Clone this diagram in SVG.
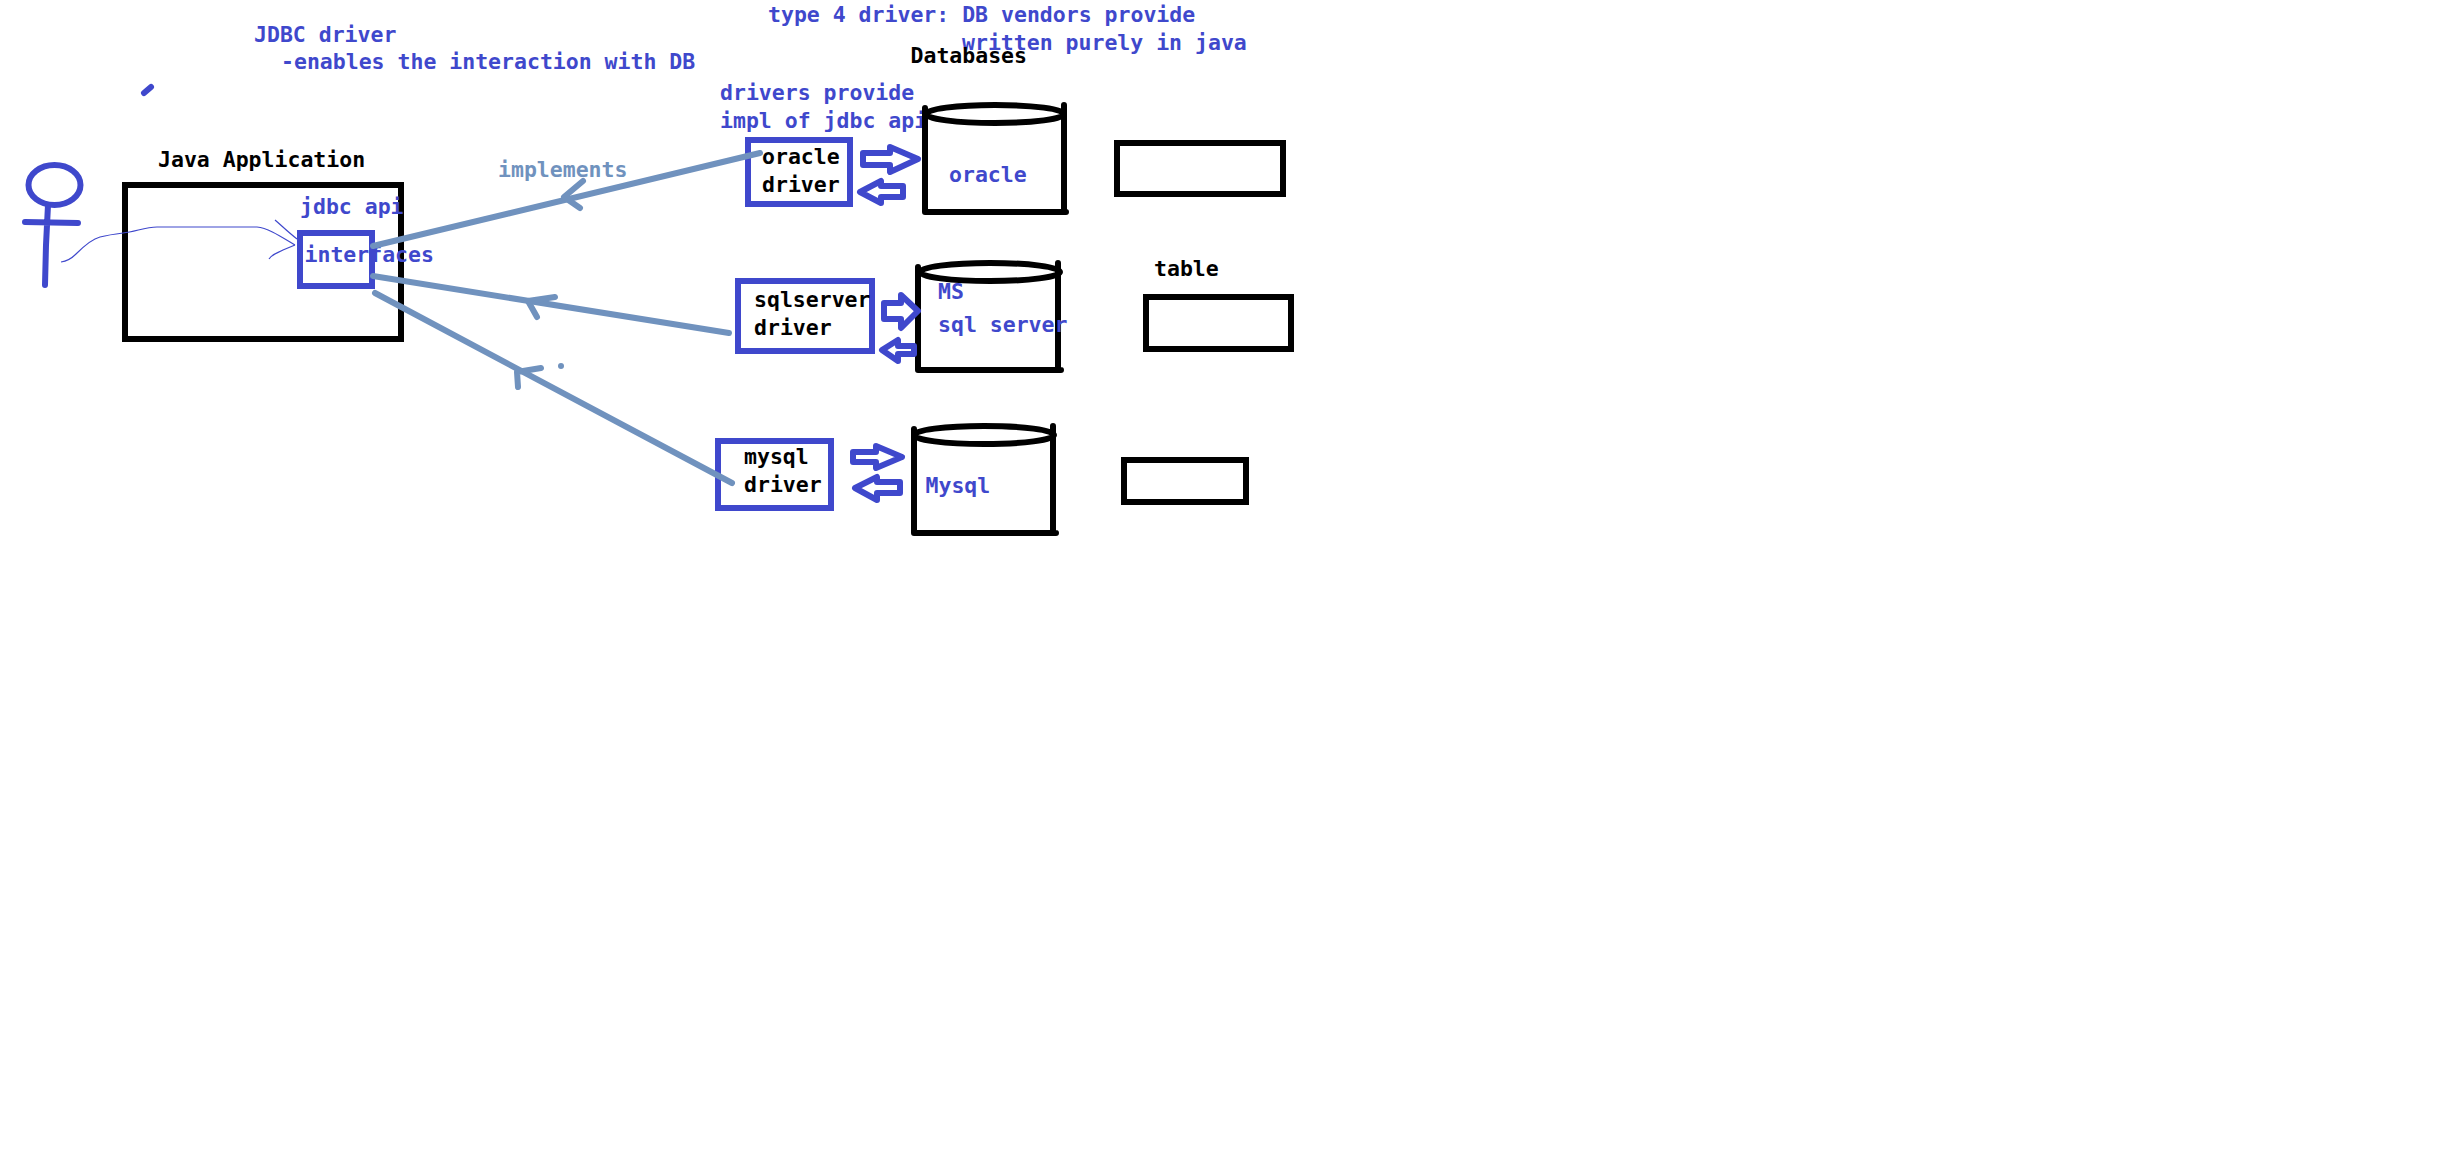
<svg xmlns="http://www.w3.org/2000/svg" width="2440" height="1176" viewBox="0 0 2440 1176">
<style>
text{font-family:"DejaVu Sans Mono","Liberation Mono",monospace;font-size:21.5px;font-weight:700;fill:#000;white-space:pre}
text.b{fill:#3f48cc}
text.s{fill:#7092be}
.bk{fill:none;stroke:#000;stroke-width:6}
.bl{fill:none;stroke:#3f48cc;stroke-width:6}
.bx{fill:#fff;stroke:#3f48cc;stroke-width:6}
.wb{fill:#fff;stroke:#000;stroke-width:6}
.th{fill:none;stroke:#3f48cc;stroke-width:1.2}
.st{fill:none;stroke:#7092be;stroke-width:6;stroke-linecap:round;stroke-linejoin:round}
.ar{fill:#fff;stroke:#3f48cc;stroke-width:6;stroke-linejoin:round}
.cy{fill:none;stroke:#000;stroke-width:6;stroke-linecap:round}
</style>
<rect width="2440" height="1176" fill="#fff"/>
<g id="notes">
<text class="b" x="254" y="42">JDBC driver</text>
<text class="b" x="281" y="69">-enables the interaction with DB</text>
<text class="b" x="768" y="22">type 4 driver: DB vendors provide</text>
<text class="b" x="962" y="50">written purely in java</text>
<text x="910.5" y="63">Databases</text>
<text class="b" x="720" y="100">drivers provide</text>
<text class="b" x="720" y="128">impl of jdbc api</text>
<text class="s" x="498" y="177">implements</text>
<text x="1154" y="276">table</text>
<path d="M144 93L151 87" fill="none" stroke="#3f48cc" stroke-width="6" stroke-linecap="round"/>
</g>
<g id="actor">
<ellipse cx="54.5" cy="185" rx="26" ry="20" class="bl"/>
<path d="M48 205L46 245L45 285M25 222L78 223" class="bl" stroke-linecap="round"/>
</g>
<g id="java-application">
<text x="158" y="167">Java Application</text>
<rect x="125" y="185" width="276" height="154" class="wb"/>
<text class="b" x="300" y="214">jdbc api</text>
</g>
<g id="jdbc-interfaces">
<text class="b" x="304.5" y="262">interfaces</text>
<rect x="300" y="233" width="72" height="53" class="bl"/>
</g>
<g id="oracle-driver">
<rect x="748" y="140" width="102" height="64" class="bx"/>
<text x="762" y="164">oracle</text>
<text x="762" y="192">driver</text>
</g>
<g id="sqlserver-driver">
<rect x="738" y="281" width="134" height="70" class="bx"/>
<text x="754" y="307">sqlserver</text>
<text x="754" y="335">driver</text>
</g>
<g id="mysql-driver">
<rect x="718" y="441" width="113" height="67" class="bx"/>
<text x="744" y="464">mysql</text>
<text x="744" y="492">driver</text>
</g>
<g id="oracle-db">
<path d="M925 108V212M1064 105V212M925 212H1066" class="cy"/>
<ellipse cx="995" cy="114" rx="69" ry="9" class="bk"/>
<text class="b" x="949" y="182">oracle</text>
</g>
<g id="sqlserver-db">
<path d="M918 267V370M1058 263V370M918 370H1061" class="cy"/>
<ellipse cx="990" cy="272" rx="70" ry="9" class="bk"/>
<text class="b" x="938" y="299">MS</text>
<text class="b" x="938" y="332">sql server</text>
</g>
<g id="mysql-db">
<path d="M914 429V533M1053 426V533M914 533H1056" class="cy"/>
<ellipse cx="984" cy="435" rx="70" ry="9" class="bk"/>
<text class="b" x="925.5" y="493">Mysql</text>
</g>
<g id="oracle-table"><rect x="1117" y="143" width="166" height="51" class="wb"/></g>
<g id="sqlserver-table"><rect x="1146" y="297" width="145" height="52" class="wb"/></g>
<g id="mysql-table"><rect x="1124" y="460" width="122" height="42" class="wb"/></g>
<g id="connectors">
<path class="th" d="M61 262C68 261 72 258 76 254C85 245 92 239 100 237C108 235 115 234 123 233C135 232 145 227 157 227H257C268 228 280 236 295 245"/>
<path class="th" d="M275 220C282 226 288 232 297 239M269 259C272 254 278 253 283 250L295 245"/>
<g id="link-oracle">
<path class="st" d="M373 246L760 153"/>
<path class="st" d="M583 181L564 197L580 208"/>
</g>
<g id="link-sqlserver">
<path class="st" d="M373 276L729 333"/>
<path class="st" d="M555 297L528 301L537 317"/>
</g>
<g id="link-mysql">
<path class="st" d="M375 293L732 483"/>
<path class="st" d="M541 368L517 372L518 387"/>
<circle cx="561" cy="366" r="3" fill="#7092be"/>
</g>
<path class="ar" d="M863 153H890V147L918 159L890 172V165H863Z"/>
<path class="ar" d="M860 192L881 181V186H903V197H881V203Z"/>
<path class="ar" d="M884 303H901V295L918 311L901 328V319H884Z"/>
<path class="ar" d="M882 350L898 340V346H914V354H898V361Z"/>
<path class="ar" d="M853 452H876V446L902 457L876 468V462H853Z"/>
<path class="ar" d="M855 488L877 477V482H900V493H877V500Z"/>
</g>
</svg>
